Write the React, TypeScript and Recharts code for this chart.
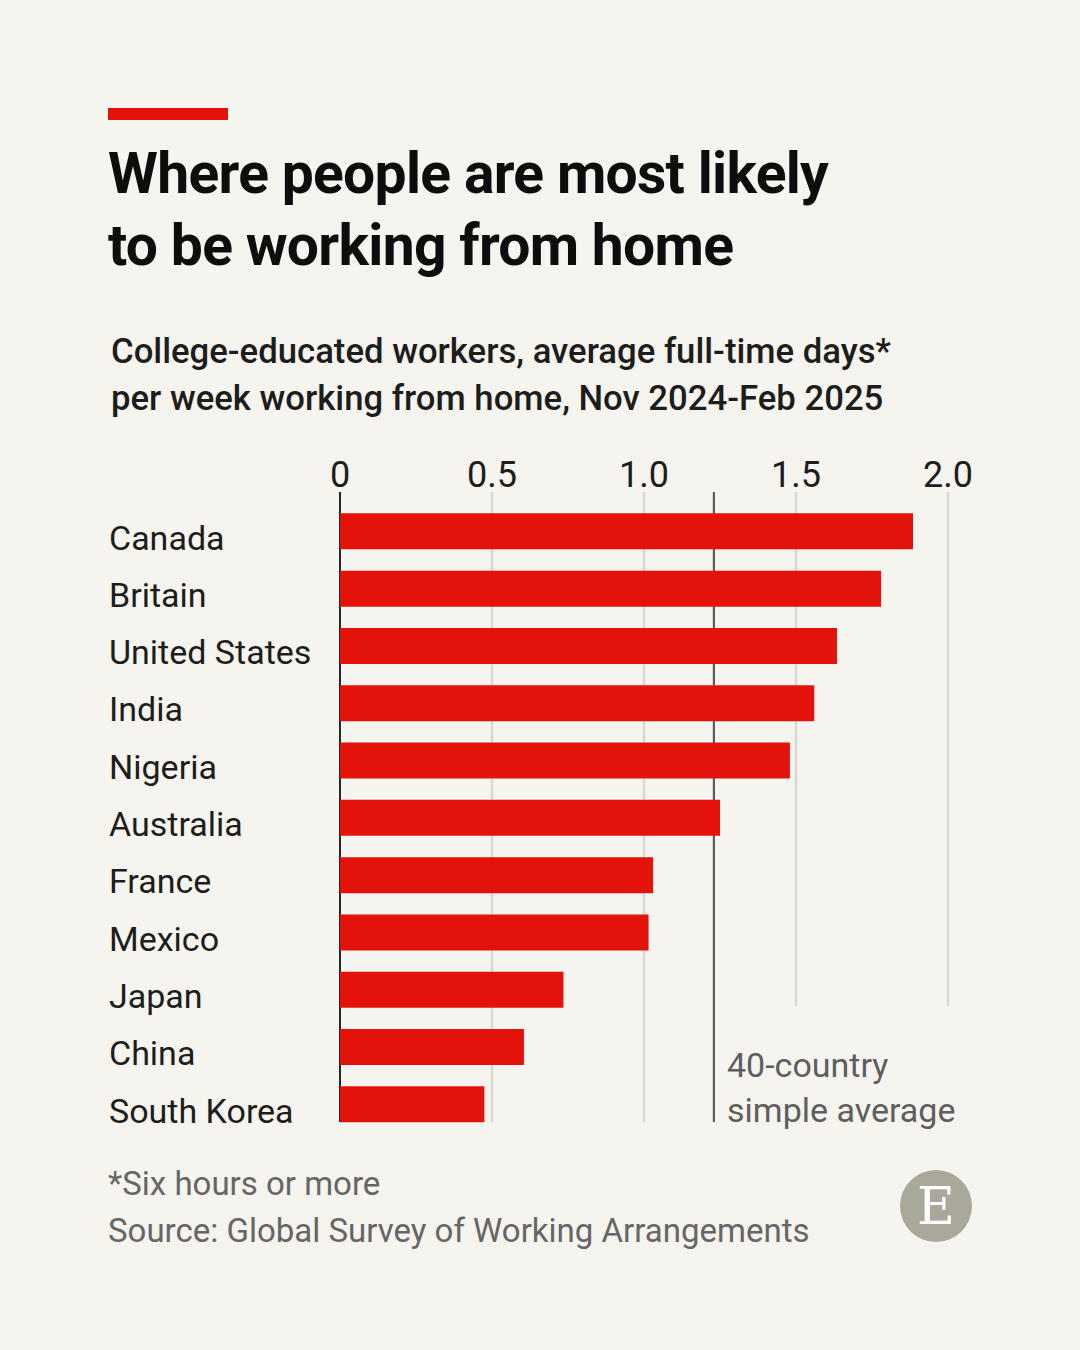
import React from 'react'
import { BarChart, Bar, XAxis, YAxis, CartesianGrid } from 'recharts'

const countries = [
  'Canada', 'Britain', 'United States', 'India', 'Nigeria', 'Australia',
  'France', 'Mexico', 'Japan', 'China', 'South Korea',
]
const daysWfh = [1.885, 1.78, 1.635, 1.56, 1.48, 1.25, 1.03, 1.015, 0.735, 0.605, 0.475]
const countryAverage = 1.23
const xTicks = [0, 0.5, 1, 1.5, 2]
const longGrid = [0.5, 1]
const shortGrid = [1.5, 2]

const BG = '#f5f4ef'
const RED = '#e3120b'
const FONT = 'Roboto, "Noto Sans", sans-serif'

const rows = countries.map((c, i) => ({ country: c, days: daysWfh[i] }))

// positions de la grille calculées à partir de l'échelle de l'axe X
const gridAt = (values: number[]) => (p: any) => {
  const scale = p?.xAxis?.scale
  return values.map((v) => {
    if (typeof scale === 'function') return scale(v)
    if (scale && typeof scale.map === 'function') return scale.map(v)
    const o = p.offset
    return o.left + (v / 2) * o.width
  })
}

const CountryTick = (props: any) => {
  const { y, payload } = props
  return (
    <text x={109} y={y} dy={18.5} fill="#1d1d1b" fontSize={34} fontFamily={FONT} textAnchor="start">
      {payload.value}
    </text>
  )
}

export default function App() {
  return (
    <div style={{ position: 'absolute', left: 0, top: 0, width: 1080, height: 1350, background: BG, overflow: 'hidden' }}>
      <BarChart
        width={1080}
        height={1350}
        data={rows}
        layout="vertical"
        margin={{ top: 462.35, right: 132, bottom: 217.35, left: 109 }}
        barSize={36}
      >
        <CartesianGrid horizontal={false} y={492} height={630} stroke="#d9d8d4" strokeWidth={2.5}
          verticalCoordinatesGenerator={gridAt(longGrid)} />
        <CartesianGrid horizontal={false} y={492} height={514} stroke="#d9d8d4" strokeWidth={2.5}
          verticalCoordinatesGenerator={gridAt(shortGrid)} />
        <CartesianGrid horizontal={false} y={492} height={630} stroke="#5c5c5c" strokeWidth={2.2}
          verticalCoordinatesGenerator={gridAt([countryAverage])} />
        <CartesianGrid horizontal={false} y={492} height={630} stroke="#262626" strokeWidth={2}
          verticalCoordinatesGenerator={gridAt([0])} />
        <XAxis
          type="number"
          orientation="top"
          domain={[0, 2]}
          ticks={xTicks}
          height={40}
          axisLine={false}
          tickLine={false}
          tickSize={0}
          tickMargin={15}
          tick={{ fontSize: 36, fill: '#1d1d1b', fontFamily: FONT }}
          tickFormatter={(v: number) => (v === 0 ? '0' : v.toFixed(1))}
          interval={0}
        />
        <YAxis
          type="category"
          dataKey="country"
          width={231}
          axisLine={false}
          tickLine={false}
          tick={<CountryTick />}
          interval={0}
        />
        <Bar dataKey="days" fill={RED} isAnimationActive={false} />
      </BarChart>

      <svg width={1080} height={1350} style={{ position: 'absolute', left: 0, top: 0, pointerEvents: 'none' }}>
        <rect x={108} y={108} width={120} height={12} fill={RED} />
        <g fontFamily={FONT} fontWeight={700} fontSize={57} fill="#0d0d0d" letterSpacing={-0.7}>
          <text x={108} y={193}>Where people are most likely</text>
          <text x={108} y={265}>to be working from home</text>
        </g>
        <g fontFamily={FONT} fontWeight={500} fontSize={34.7} fill="#1d1d1b">
          <text x={111} y={363}>College-educated workers, average full-time days*</text>
          <text x={111} y={410}>per week working from home, Nov 2024-Feb 2025</text>
        </g>
        <g fontFamily={FONT} fontSize={34} fill="#5e5e5e">
          <text x={727} y={1077}>40-country</text>
          <text x={727} y={1122}>simple average</text>
        </g>
        <g fontFamily={FONT} fontSize={33} fill="#666666">
          <text x={108} y={1195}>*Six hours or more</text>
          <text x={108} y={1242}>Source: Global Survey of Working Arrangements</text>
        </g>
        <circle cx={936} cy={1206} r={36} fill="#aaa79b" />
        <text x={936} y={1224} textAnchor="middle" fontFamily='"DejaVu Serif", "Liberation Serif", serif'
          fontSize={52} fill="#ffffff">E</text>
      </svg>
    </div>
  )
}
